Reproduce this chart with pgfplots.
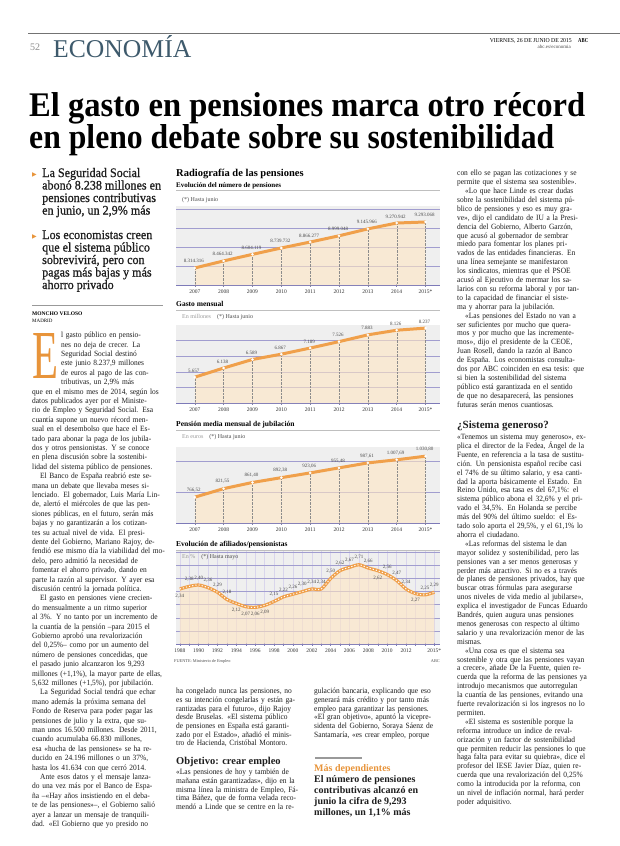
\documentclass[border=0pt]{standalone}
\usepackage{fontspec}
\setmainfont{Liberation Serif}
\newfontfamily\dejavu{DejaVu Sans}
\newfontfamily\bodyfam[FakeStretch=0.93]{Liberation Serif}
\newfontfamily\bulletfont[FakeStretch=0.93,FakeBold=0.8]{Liberation Serif}
\usepackage{graphicx}
\usepackage{pgfplots}
\usepackage{pgfplotstable}
\pgfplotsset{compat=1.18}
\pgfkeys{/pgf/number format/assume math mode=true}

\definecolor{orangeL}{HTML}{F0A04B}
\definecolor{peach}{HTML}{FFE5C2}
\definecolor{bggray}{HTML}{EFEFEF}
\definecolor{gridcol}{HTML}{A19DCF}
\definecolor{vgrid}{HTML}{D9D5EC}
\definecolor{axiscol}{HTML}{7D7AB8}
\definecolor{dropor}{HTML}{E8943A}
\definecolor{econ}{HTML}{3E5A6C}
\definecolor{bodytxt}{HTML}{1E1E1E}

\newcommand{\setpar}{\parindent=8pt\emergencystretch=10pt\tolerance=3000\hyphenpenalty=30\color{bodytxt}}
\newcommand{\jl}[1]{\hbox to \hsize{#1}}
\newcommand{\jlast}[1]{\hbox to \hsize{#1\hfil}}

% number of pensions, in millions
\pgfplotstableread{
year val lab
2007 8.314316 8.314.316
2008 8.464342 8.464.342
2009 8.604119 8.604.119
2010 8.739732 8.739.732
2011 8.866277 8.866.277
2012 8.999048 8.999.048
2013 9.145966 9.145.966
2014 9.270942 9.270.942
2015 9.293068 9.293.068
}\tA
\pgfplotstableread{
year val lab
2007 5657 5.657
2008 6138 6.138
2009 6589 6.589
2010 6867 6.867
2011 7189 7.189
2012 7526 7.526
2013 7883 7.883
2014 8126 8.126
2015 8237 8.237
}\tB
\pgfplotstableread{
year val lab
2007 766.52 766,52
2008 821.55 821,55
2009 861.40 861,40
2010 892.38 892,38
2011 923.06 923,06
2012 955.48 955,48
2013 987.61 987,61
2014 1007.69 1.007,69
2015 1030.80 1.030,80
}\tC
\pgfplotstableread{
year val
1988 2.34
1989 2.38
1990 2.40
1991 2.36
1992 2.29
1993 2.18
1994 2.12
1995 2.07
1996 2.06
1997 2.09
1998 2.15
1999 2.22
2000 2.26
2001 2.30
2002 2.34
2003 2.34
2004 2.50
2005 2.62
2006 2.67
2007 2.71
2008 2.66
2009 2.62
2010 2.56
2011 2.47
2012 2.34
2013 2.27
2014 2.25
2015 2.29
}\tD
\pgfplotstableread{
year val lab
1989 2.38 2,38
1990 2.40 2,40
1991 2.36 2,36
1992 2.29 2,29
1993 2.18 2,18
1998 2.15 2,15
1999 2.22 2,22
2000 2.26 2,26
2001 2.30 2,30
2002 2.34 2,34
2003 2.34 2,34
2004 2.50 2,50
2005 2.62 2,62
2006 2.67 2,67
2007 2.71 2,71
2008 2.66 2,66
2010 2.56 2,56
2011 2.47 2,47
2012 2.34 2,34
2014 2.25 2,25
2015 2.29 2,29
}\tDa
\pgfplotstableread{
year val lab
1988 2.34 2,34
1994 2.12 2,12
1995 2.07 2,07
1996 2.06 2,06
1997 2.09 2,09
2009 2.62 2,62
2013 2.27 2,27
}\tDb

\pgfplotsset{
  panel/.style={
    scale only axis, anchor=south west, width=264pt,
    axis lines*=left,
    y axis line style={draw=none},
    x axis line style={draw=axiscol, line width=0.8pt},
    ytick style={draw=none}, yticklabels={},
    xtick style={draw=axiscol, line width=0.5pt},
    tick align=center, major tick length=3pt, minor tick length=2pt,
    ymajorgrids, y grid style={draw=gridcol, line width=0.6pt},
    axis background/.style={fill=bggray},
    xticklabel style={font=\fontsize{5.5}{6}\selectfont, text=black!80},
    enlargelimits=false,
  },
  yrs/.style={xmin=2006.35, xmax=2015.5, xtick={2007,...,2015},
    xticklabels={2007,2008,2009,2010,2011,2012,2013,2014,2015*}, minor x tick num=1},
  peachfill/.style={fill=peach, fill opacity=0.6, draw=none},
  stems/.style={ycomb, draw=black!45, densely dotted, line width=0.4pt},
  oline/.style={draw=orangeL, line width=3pt, mark=*, mark size=1.2pt,
    mark options={fill=white, draw=white, line width=0.2pt},
    nodes near coords, point meta=explicit symbolic,
    every node near coord/.style={font=\fontsize{5}{5}\selectfont, text=black!70, anchor=south, yshift=1.5pt, xshift=-1pt}},
}

\begin{document}
\begin{tikzpicture}
\fill[white] (0,0) rectangle (620pt,-846pt);
\useasboundingbox (0,0) rectangle (620pt,-846pt);

% ---------- header ----------
\draw[black!55, line width=0.8pt] (28pt,-33pt) -- (620pt,-33pt);
\node[anchor=base west, inner sep=0, font=\fontsize{10}{10}\selectfont, text=black!45] at (30pt,-50pt) {52};
\node[anchor=base west, inner sep=0, text=econ] at (53pt,-57pt) {\resizebox{!}{22pt}{ECONOMÍA}};
\node[anchor=base east, inner sep=0] at (572pt,-42pt) {\resizebox{82pt}{4pt}{VIERNES, 26 DE JUNIO DE 2015}};
\node[anchor=base west, inner sep=0] at (578pt,-42pt) {\resizebox{10pt}{4pt}{\bfseries ABC}};
\node[anchor=base east, inner sep=0, font=\fontsize{5}{5}\selectfont, text=black!70] at (571pt,-48pt) {abc.es/economia};

% ---------- headline ----------
\node[anchor=base west, inner sep=0] at (29pt,-116pt) {\resizebox{556pt}{24pt}{\bfseries El gasto en pensiones marca otro récord}};
\node[anchor=base west, inner sep=0] at (29pt,-148pt) {\resizebox{525pt}{24pt}{\bfseries en pleno debate sobre su sostenibilidad}};

% ---------- bullets ----------
\begin{scope}[every node/.style={anchor=base west, inner sep=0, font=\bulletfont\fontsize{13}{13}\selectfont, text=bodytxt}]
\node at (42pt,-177pt) {La Seguridad Social};
\node at (42pt,-189.5pt) {abonó 8.238 millones en};
\node at (42pt,-202pt) {pensiones contributivas};
\node at (42pt,-214.5pt) {en junio, un 2,9\% más};
\node at (42pt,-239pt) {Los economistas creen};
\node at (42pt,-251.5pt) {que el sistema público};
\node at (42pt,-264pt) {sobrevivirá, pero con};
\node at (42pt,-276.5pt) {pagas más bajas y más};
\node at (42pt,-289pt) {ahorro privado};
\end{scope}
\node[anchor=base west, inner sep=0, font=\dejavu\fontsize{6}{6}\selectfont, text=dropor] at (32pt,-176pt) {▶};
\node[anchor=base west, inner sep=0, font=\dejavu\fontsize{6}{6}\selectfont, text=dropor] at (32pt,-238pt) {▶};

\draw[black!40, line width=0.7pt] (32pt,-305pt) -- (163pt,-305pt);
\node[anchor=base west, inner sep=0, font=\bfseries\fontsize{5.5}{6}\selectfont] at (32pt,-315pt) {MONCHO VELOSO};
\node[anchor=base west, inner sep=0, font=\fontsize{5}{6}\selectfont] at (32pt,-322pt) {MADRID};

% ---------- left column body ----------
\node[anchor=north west, inner sep=0pt, text width=131pt, font=\bodyfam\fontsize{8}{9.4}\selectfont] at (32pt,-332pt) {\setpar
\jl{\rlap{\smash{\raisebox{-40.6pt}{\textcolor{dropor}{\resizebox{26pt}{45pt}{E}}}}}\kern29pt l gasto público en pensio-}
\jl{\kern29pt nes no deja de crecer. La}
\jl{\kern29pt Seguridad Social destinó}
\jl{\kern29pt este junio 8.237,9 millones}
\jl{\kern29pt de euros al pago de las con-}
\jl{\kern29pt tributivas, un 2,9\% más}
\jl{que en el mismo mes de 2014, según los}
\jl{datos publicados ayer por el Ministe-}
\jl{rio de Empleo y Seguridad Social. Esa}
\jl{cuantía supone un nuevo récord men-}
\jl{sual en el desembolso que hace el Es-}
\jl{tado para abonar la paga de los jubila-}
\jl{dos y otros pensionistas. Y se conoce}
\jl{en plena discusión sobre la sostenibi-}
\jlast{lidad del sistema público de pensiones.}
\jl{\kern8pt El Banco de España reabrió este se-}
\jl{mana un debate que llevaba meses si-}
\jl{lenciado. El gobernador, Luis María Lin-}
\jl{de, alertó el miércoles de que las pen-}
\jl{siones públicas, en el futuro, serán más}
\jl{bajas y no garantizarán a los cotizan-}
\jl{tes su actual nivel de vida. El presi-}
\jl{dente del Gobierno, Mariano Rajoy, de-}
\jl{fendió ese mismo día la viabilidad del mo-}
\jl{delo, pero admitió la necesidad de}
\jl{fomentar el ahorro privado, dando en}
\jl{parte la razón al supervisor. Y ayer esa}
\jlast{discusión centró la jornada política.}
\jl{\kern8pt El gasto en pensiones viene crecien-}
\jl{do mensualmente a un ritmo superior}
\jl{al 3\%. Y no tanto por un incremento de}
\jl{la cuantía de la pensión –para 2015 el}
\jl{Gobierno aprobó una revalorización}
\jl{del 0,25\%– como por un aumento del}
\jl{número de pensiones concedidas, que}
\jl{el pasado junio alcanzaron los 9,293}
\jl{millones (+1,1\%), la mayor parte de ellas,}
\jlast{5,632 millones (+1,5\%), por jubilación.}
\jl{\kern8pt La Seguridad Social tendrá que echar}
\jl{mano además la próxima semana del}
\jl{Fondo de Reserva para poder pagar las}
\jl{pensiones de julio y la extra, que su-}
\jl{man unos 16.500 millones. Desde 2011,}
\jl{cuando acumulaba 66.830 millones,}
\jl{esa «hucha de las pensiones» se ha re-}
\jl{ducido en 24.196 millones o un 37\%,}
\jlast{hasta los 41.634 con que cerró 2014.}
\jl{\kern8pt Ante esos datos y el mensaje lanza-}
\jl{do una vez más por el Banco de Espa-}
\jl{ña –«Hay años insistiendo en el deba-}
\jl{te de las pensiones»–, el Gobierno salió}
\jl{ayer a lanzar un mensaje de tranquili-}
\jl{dad. «El Gobierno que yo presido no}
};

% ---------- middle lower columns ----------
\node[anchor=north west, inner sep=0pt, text width=127pt, font=\bodyfam\fontsize{8}{8.67}\selectfont] at (176pt,-688pt) {\setpar
\jl{ha congelado nunca las pensiones, no}
\jl{es su intención congelarlas y están ga-}
\jl{rantizadas para el futuro», dijo Rajoy}
\jl{desde Bruselas. «El sistema público}
\jl{de pensiones en España está garanti-}
\jl{zado por el Estado», añadió el minis-}
\jlast{tro de Hacienda, Cristóbal Montoro.}
};
\node[anchor=base west, inner sep=0, font=\bfseries\fontsize{10.5}{11}\selectfont, text=bodytxt] at (176pt,-764pt) {Objetivo: crear empleo};
\node[anchor=north west, inner sep=0pt, text width=127pt, font=\bodyfam\fontsize{8}{8.67}\selectfont] at (176pt,-769pt) {\setpar
\jl{«Las pensiones de hoy y también de}
\jl{mañana están garantizadas», dijo en la}
\jl{misma línea la ministra de Empleo, Fá-}
\jl{tima Báñez, que de forma velada reco-}
\jl{mendó a Linde que se centre en la re-}
};

\node[anchor=north west, inner sep=0pt, text width=126pt, font=\bodyfam\fontsize{8}{8.67}\selectfont] at (314pt,-688pt) {\setpar
\jl{gulación bancaria, explicando que eso}
\jl{generará más crédito y por tanto más}
\jl{empleo para garantizar las pensiones.}
\jl{«El gran objetivo», apuntó la vicepre-}
\jl{sidenta del Gobierno, Soraya Sáenz de}
\jl{Santamaría, «es crear empleo, porque}
};

\draw[black!40, line width=1.5pt] (315pt,-758pt) -- (362pt,-758pt);
\node[anchor=base west, inner sep=0, font=\bfseries\fontsize{10}{10}\selectfont, text=dropor] at (314pt,-771pt) {Más dependientes};
\begin{scope}[every node/.style={anchor=base west, inner sep=0, font=\bfseries\fontsize{10}{10}\selectfont, text=bodytxt}]
\node at (314pt,-782pt) {El número de pensiones};
\node at (314pt,-793pt) {contributivas alcanzó en};
\node at (314pt,-804pt) {junio la cifra de 9,293};
\node at (314pt,-815pt) {millones, un 1,1\% más};
\end{scope}

% ---------- right column ----------
\node[anchor=north west, inner sep=0pt, text width=131pt, font=\bodyfam\fontsize{8}{8.9}\selectfont] at (457pt,-170pt) {\setpar
\jl{con ello se pagan las cotizaciones y se}
\jlast{permite que el sistema sea sostenible».}
\jl{\kern8pt «Lo que hace Linde es crear dudas}
\jl{sobre la sostenibilidad del sistema pú-}
\jl{blico de pensiones y eso es muy gra-}
\jl{ve», dijo el candidato de IU a la Presi-}
\jl{dencia del Gobierno, Alberto Garzón,}
\jl{que acusó al gobernador de sembrar}
\jl{miedo para fomentar los planes pri-}
\jl{vados de las entidades financieras. En}
\jl{una línea semejante se manifestaron}
\jl{los sindicatos, mientras que el PSOE}
\jl{acusó al Ejecutivo de mermar los sa-}
\jl{larios con su reforma laboral y por tan-}
\jl{to la capacidad de financiar el siste-}
\jlast{ma y ahorrar para la jubilación.}
\jl{\kern8pt «Las pensiones del Estado no van a}
\jl{ser suficientes por mucho que quera-}
\jl{mos y por mucho que las incremente-}
\jl{mos», dijo el presidente de la CEOE,}
\jl{Juan Rosell, dando la razón al Banco}
\jl{de España. Los economistas consulta-}
\jl{dos por ABC coinciden en esa tesis: que}
\jl{si bien la sostenibilidad del sistema}
\jl{público está garantizada en el sentido}
\jl{de que no desaparecerá, las pensiones}
\jlast{futuras serán menos cuantiosas.}
};
\node[anchor=base west, inner sep=0, font=\bfseries\fontsize{11}{12}\selectfont, text=bodytxt] at (457pt,-428pt) {¿Sistema generoso?};
\node[anchor=north west, inner sep=0pt, text width=131pt, font=\bodyfam\fontsize{8}{8.9}\selectfont] at (457pt,-434pt) {\setpar
«Tenemos un sistema muy generoso», explica el director de la Fedea, Ángel de la Fuente, en referencia a la tasa de sustitución. Un pensionista español recibe casi el 74\% de su último salario, y esa cantidad la aporta básicamente el Estado. En Reino Unido, esa tasa es del 67,1\%: el sistema público abona el 32,6\% y el privado el 34,5\%. En Holanda se percibe más del 90\% del último sueldo: el Estado solo aporta el 29,5\%, y el 61,1\% lo ahorra el ciudadano.\par
«Las reformas del sistema le dan mayor solidez y sostenibilidad, pero las pensiones van a ser menos generosas y perder más atractivo. Si no es a través de planes de pensiones privados, hay que buscar otras fórmulas para asegurarse unos niveles de vida medio al jubilarse», explica el investigador de Funcas Eduardo Bandrés, quien augura unas pensiones menos generosas con respecto al último salario y una revalorización menor de las mismas.\par
«Una cosa es que el sistema sea sostenible y otra que las pensiones vayan a crecer», añade De la Fuente, quien recuerda que la reforma de las pensiones ya introdujo mecanismos que autorregulan la cuantía de las pensiones, evitando una fuerte revalorización si los ingresos no lo permiten.\par
«El sistema es sostenible porque la reforma introduce un índice de revalorización y un factor de sostenibilidad que permiten reducir las pensiones lo que haga falta para evitar su quiebra», dice el profesor del IESE Javier Díaz, quien recuerda que una revalorización del 0,25\% como la introducida por la reforma, con un nivel de inflación normal, hará perder poder adquisitivo.\par};

% ---------- chart titles ----------
\node[anchor=base west, inner sep=0, font=\bfseries\fontsize{10.5}{11}\selectfont] at (176pt,-176pt) {Radiografía de las pensiones};
\node[anchor=base west, inner sep=0, font=\bfseries\fontsize{7}{8}\selectfont] at (176pt,-187pt) {Evolución del número de pensiones};
\draw[black!25, line width=0.4pt] (176pt,-190pt) -- (440pt,-190pt);
\node[anchor=base west, inner sep=0, font=\fontsize{6}{6}\selectfont, text=black!70] at (182pt,-201pt) {(*) Hasta junio};

\node[anchor=base west, inner sep=0, font=\bfseries\fontsize{7.5}{8}\selectfont] at (176pt,-306pt) {Gasto mensual};
\draw[black!25, line width=0.4pt] (176pt,-310pt) -- (440pt,-310pt);
\node[anchor=base west, inner sep=0, font=\fontsize{6}{6}\selectfont, text=black!70] at (182pt,-318pt) {\textcolor{black!40}{En millones}\quad (*) Hasta junio};

\node[anchor=base west, inner sep=0, font=\bfseries\fontsize{7.5}{8}\selectfont] at (176pt,-426pt) {Pensión media mensual de jubilación};
\draw[black!25, line width=0.4pt] (176pt,-430pt) -- (440pt,-430pt);
\node[anchor=base west, inner sep=0, font=\fontsize{6}{6}\selectfont, text=black!70] at (182pt,-438pt) {\textcolor{black!40}{En euros}\quad (*) Hasta junio};

\node[anchor=base west, inner sep=0, font=\bfseries\fontsize{7.5}{8}\selectfont] at (176pt,-546pt) {Evolución de afiliados/pensionistas};
\draw[black!25, line width=0.4pt] (176pt,-550pt) -- (440pt,-550pt);

% ---------- panel 1 ----------
\begin{axis}[panel, yrs, at={(176pt,-285pt)}, height=79pt,
  ymin=7.952, ymax=9.633, ytick={8.357,8.761,9.165,9.569}]
\addplot[peachfill] table[x=year,y=val] {\tA} \closedcycle;
\addplot[stems] table[x=year,y=val] {\tA};
\addplot[oline] table[x=year,y=val,meta=lab] {\tA};
\end{axis}

% ---------- panel 2 ----------
\begin{axis}[panel, yrs, at={(176pt,-403pt)}, height=78pt,
  ymin=4300, ymax=8400, ytick={5100,5925,6750,7575}]
\addplot[peachfill] table[x=year,y=val] {\tB} \closedcycle;
\addplot[stems] table[x=year,y=val] {\tB};
\addplot[oline] table[x=year,y=val,meta=lab] {\tB};
\end{axis}

% ---------- panel 3 ----------
\begin{axis}[panel, yrs, at={(176pt,-523pt)}, height=76pt,
  ymin=600, ymax=1090, ytick={800,1000}]
\addplot[peachfill] table[x=year,y=val] {\tC} \closedcycle;
\addplot[stems] table[x=year,y=val] {\tC};
\addplot[oline] table[x=year,y=val,meta=lab] {\tC};
\end{axis}

% ---------- panel 4 ----------
\begin{axis}[panel, at={(176pt,-644pt)}, height=93pt,
  xmin=1987.6, xmax=2015.6, ymin=1.5, ymax=2.92,
  ytick={1.7,1.9,2.1,2.3,2.5,2.7,2.9},
  xtick={1988,...,2015}, xmajorgrids, x grid style={draw=vgrid, line width=0.4pt},
  xticklabels={1988,{},1990,{},1992,{},1994,{},1996,{},1998,{},2000,{},2002,{},2004,{},2006,{},2008,{},2010,{},2012,{},{},2015*}]
\addplot[peachfill, smooth] table[x=year,y=val] {\tD} \closedcycle;
\addplot[draw=orangeL, line width=3.2pt, smooth] table[x=year,y=val] {\tD};
\addplot[draw=white, line width=1pt, smooth, dash pattern=on 1.2pt off 2pt] table[x=year,y=val] {\tD};
\addplot[draw=none, nodes near coords, point meta=explicit symbolic,
  every node near coord/.style={font=\fontsize{5}{5}\selectfont, text=black!70, anchor=south, yshift=1.5pt}]
  table[x=year,y=val,meta=lab] {\tDa};
\addplot[draw=none, nodes near coords, point meta=explicit symbolic,
  every node near coord/.style={font=\fontsize{5}{5}\selectfont, text=black!70, anchor=north, yshift=-1.5pt}]
  table[x=year,y=val,meta=lab] {\tDb};
\end{axis}
\node[anchor=base west, inner sep=0, font=\fontsize{6}{6}\selectfont, text=black!70] at (182pt,-558pt) {\textcolor{black!40}{En \%}\quad (*) Hasta mayo};
\node[anchor=base west, inner sep=0, font=\fontsize{4.3}{5}\selectfont, text=black!70] at (174pt,-662pt) {FUENTE: Ministerio de Empleo};
\node[anchor=base east, inner sep=0, font=\fontsize{4.3}{5}\selectfont, text=black!70] at (440pt,-662pt) {ABC};
\end{tikzpicture}
\end{document}
